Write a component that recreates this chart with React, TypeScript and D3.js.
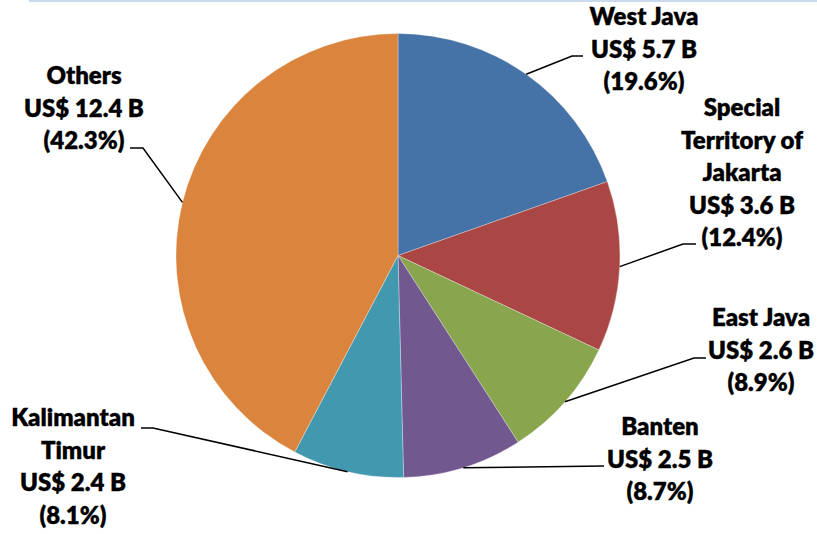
import React from "react";
import * as d3 from "d3";

const regions = ["West Java", "Special Territory of Jakarta", "East Java", "Banten", "Kalimantan Timur", "Others"];
const valuesB = [5.7, 3.6, 2.6, 2.5, 2.4, 12.4];
const shares = [19.6, 12.4, 8.9, 8.7, 8.1, 42.3];
const labelLines = [
  ["West Java"],
  ["Special", "Territory of", "Jakarta"],
  ["East Java"],
  ["Banten"],
  ["Kalimantan", "Timur"],
  ["Others"],
];
const colors = ["#4572A7", "#AA4643", "#89A54E", "#71588F", "#4198AF", "#DB843D"];

// layout of labels (text block centre x, first baseline y, leader elbow and end)
const labelLayout = [
  { x: 644, y: 25, elbow: [572, 56], end: [583, 56] },
  { x: 742, y: 116, elbow: [683, 244], end: [696, 244] },
  { x: 761, y: 326, elbow: [694, 358], end: [706, 358] },
  { x: 660, y: 435, elbow: [604, 466], end: [604, 466] },
  { x: 73, y: 426, elbow: [153, 428], end: [141, 428] },
  { x: 84, y: 84, elbow: [143, 148], end: [130, 148] },
];

const W = 817;
const H = 534;
const cx = 398;
const cy = 255.5;
const R = 222;
const lineH = 32.5;

export default function App() {
  const data = regions.map((r, i) => ({ r, v: valuesB[i], s: shares[i], i }));
  const pie = d3.pie<any>().sort(null).value((d) => d.s);
  const arcs = pie(data);
  const arc = d3.arc<any>().innerRadius(0).outerRadius(R);

  return (
    <svg
      width={W}
      height={H}
      style={{ position: "absolute", left: 0, top: 0, background: "#fff" }}
      fontFamily="Lato, 'Open Sans', sans-serif"
    >
      <line x1={29} x2={W} y1={1} y2={1} stroke="#B9CDE5" strokeWidth={1.5} />
      <g transform={`translate(${cx},${cy})`}>
        {arcs.map((a, i) => (
          <path key={i} d={arc(a) || ""} fill={colors[i]} stroke="#ffffff" strokeOpacity={0.5} strokeWidth={0.6} />
        ))}
      </g>
      {arcs.map((a, i) => {
        const mid = (a.startAngle + a.endAngle) / 2;
        const px = cx + R * Math.sin(mid);
        const py = cy - R * Math.cos(mid);
        const L = labelLayout[i];
        return (
          <polyline
            key={"l" + i}
            points={`${px},${py} ${L.elbow[0]},${L.elbow[1]} ${L.end[0]},${L.end[1]}`}
            fill="none"
            stroke="#000"
            strokeWidth={1.5}
          />
        );
      })}
      {data.map((d, i) => {
        const L = labelLayout[i];
        const lines = [...labelLines[i], `US$ ${d3.format(".1f")(d.v)} B`, `(${d3.format(".1f")(d.s)}%)`];
        return (
          <text key={"t" + i} x={L.x} y={L.y} textAnchor="middle" fontSize={24} fontWeight={800} fill="#000" stroke="#000" strokeWidth={0.3}>
            {lines.map((t, j) => (
              <tspan key={j} x={L.x} y={L.y + j * lineH}>
                {t}
              </tspan>
            ))}
          </text>
        );
      })}
    </svg>
  );
}
